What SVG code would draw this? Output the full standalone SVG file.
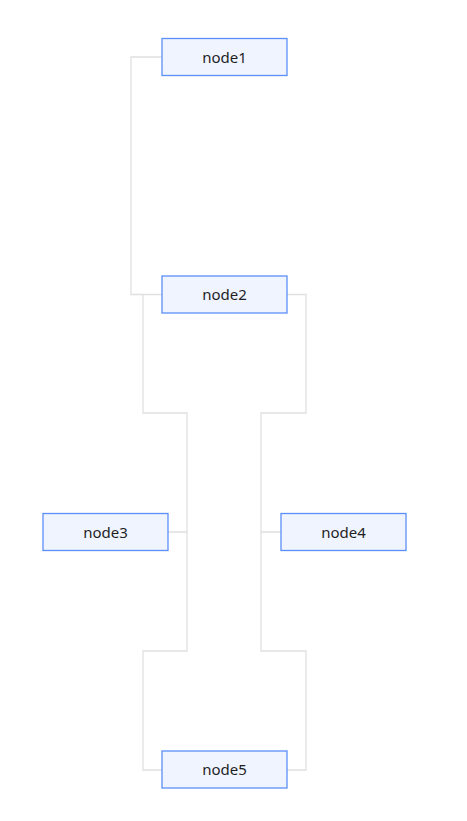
<svg xmlns="http://www.w3.org/2000/svg" width="467" height="821" viewBox="0 0 467 821">
<style>
.n rect{fill:#eff4ff;stroke:#5b8ff9;stroke-width:1.3}
.n text{font-family:"Noto Sans","Open Sans",sans-serif;font-size:15px;fill:#1f1f1f;text-anchor:middle;dominant-baseline:central}
.e path{fill:none;stroke:#e0e0e0;stroke-width:1.3}
</style>
<rect width="467" height="821" fill="#fff"/>
<g class="e" id="edges">
<path d="M162 57H131V294.5H162"/>
<path d="M143 294.5V413H187V532H168"/>
<path d="M287 294.5H306V413H261V532H281"/>
<path d="M187 532V651H143V770H162"/>
<path d="M261 532V651H306V770H287"/>
</g>
<g class="n" id="node1"><rect x="162" y="38.5" width="125" height="37"/><text x="224.5" y="56.5">node1</text></g>
<g class="n" id="node2"><rect x="162" y="276" width="125" height="37"/><text x="224.5" y="294">node2</text></g>
<g class="n" id="node3"><rect x="43" y="513.5" width="125" height="37"/><text x="105.5" y="531.5">node3</text></g>
<g class="n" id="node4"><rect x="281" y="513.5" width="125" height="37"/><text x="343.5" y="531.5">node4</text></g>
<g class="n" id="node5"><rect x="162" y="751" width="125" height="37"/><text x="224.5" y="769">node5</text></g>
</svg>
